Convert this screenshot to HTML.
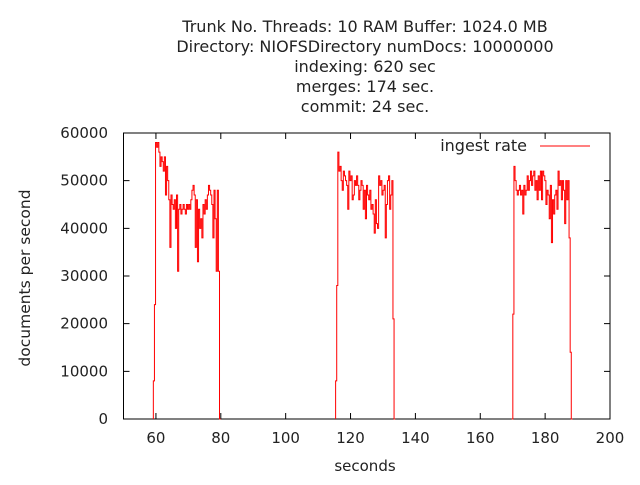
<!DOCTYPE html>
<html><head><meta charset="utf-8"><style>
body{margin:0;background:#fff}
svg text{font-family:"DejaVu Sans","Liberation Sans",sans-serif;font-size:15px;fill:#222}
</style></head><body>
<svg id="chart" width="640" height="480" xmlns="http://www.w3.org/2000/svg">
<g text-anchor="middle" style="font-size:16px">
<text x="365" y="32" style="font-size:16px">Trunk No. Threads: 10 RAM Buffer: 1024.0 MB</text>
<text x="365" y="52" style="font-size:16px">Directory: NIOFSDirectory numDocs: 10000000</text>
<text x="365" y="72" style="font-size:16px">indexing: 620 sec</text>
<text x="365" y="92" style="font-size:16px">merges: 174 sec.</text>
<text x="365" y="112" style="font-size:16px">commit: 24 sec.</text>
</g>
<g id="axes"></g>
<path id="series" fill="none" stroke="#ff0000" stroke-width="1"/>
<text x="365" y="471" text-anchor="middle">seconds</text>
<text transform="translate(30,278) rotate(-90)" text-anchor="middle" style="font-size:15.5px">documents per second</text>
<g>
<text x="527" y="151" text-anchor="end" style="font-size:16px">ingest rate</text>
<line x1="540" y1="146" x2="590" y2="146" stroke="#ff0000"/>
</g>
</svg>
<script>
const xTicks=[60,80,100,120,140,160,180,200];
const yTicks=[0,10000,20000,30000,40000,50000,60000];
const burst1Start=59.2;
const burst1=[8000,24000,58000,57000,58000,56000,53000,55000,54000,52000,55000,47000,53000,50000,46000,36000,47000,45000,44000,46000,40000,47000,31000,44000,45000,43000,44000,45000,44000,43000,45000,44000,45000,44000,46000,48000,49000,47000,36000,46000,33000,44000,40000,42000,38000,45000,43000,46000,44000,47000,49000,48000,47000,45000,38000,48000,42000,31000,48000,31000,0];
const burst2Start=115.4;
const burst2=[8000,28000,56000,52000,53000,50000,48000,52000,51000,50000,49000,44000,52000,50000,51000,46000,47000,50000,49000,51000,49000,46000,48000,50000,49000,44000,48000,42000,49000,47000,46000,48000,44000,45000,43000,39000,46000,41000,40000,51000,49000,50000,47000,48000,49000,38000,45000,50000,51000,44000,47000,50000,21000,0];
const burst3Start=169.7;
const burst3=[0,22000,53000,50000,48000,47000,48000,49000,47000,48000,43000,49000,47000,48000,51000,48000,50000,52000,49000,51000,52000,48000,50000,46000,51000,48000,52000,46000,52000,51000,50000,45000,48000,47000,42000,49000,37000,46000,43000,47000,48000,44000,52000,49000,50000,46000,50000,48000,41000,50000,46000,50000,38000,14000,0];
const stepSec=0.34;
const X=v=>123.5+(v-50)*(610-123.5)/150;
const Y=v=>419-v*(419-133)/60000;
const NS='http://www.w3.org/2000/svg';
const ax=document.getElementById('axes');
const mk=(t,a)=>{const e=document.createElementNS(NS,t);for(const k in a)e.setAttribute(k,a[k]);ax.appendChild(e);return e;};
const frame=mk('rect',{x:123.5,y:133,width:486.5,height:286,fill:'none',stroke:'#000'});


xTicks.forEach(t=>{
 const l=mk('path',{d:`M${X(t)},419v-6M${X(t)},133v6`,stroke:'#000'});
 
 
 const tx=mk('text',{x:X(t),y:443,'text-anchor':'middle'});tx.textContent=t;
 
 
});
yTicks.forEach(t=>{
 const l=mk('path',{d:`M123.5,${Y(t)}h6M610,${Y(t)}h-6`,stroke:'#000'});
 
 
 const tx=mk('text',{x:108,y:Y(t)+5,'text-anchor':'end'});tx.textContent=t;
 
 
});
let d='';
[[burst1Start,burst1],[burst2Start,burst2],[burst3Start,burst3]].forEach(([s,arr])=>{
 arr.forEach((v,i)=>{
  const x0=X(s+i*stepSec),x1=X(s+(i+1)*stepSec),y=Y(v);
  d+=(i===0?`M${x0},${Y(0)}V${y}`:`V${y}`)+`H${x1}`;
 });
});
document.getElementById('series').setAttribute('d',d);
</script>
</body></html>
